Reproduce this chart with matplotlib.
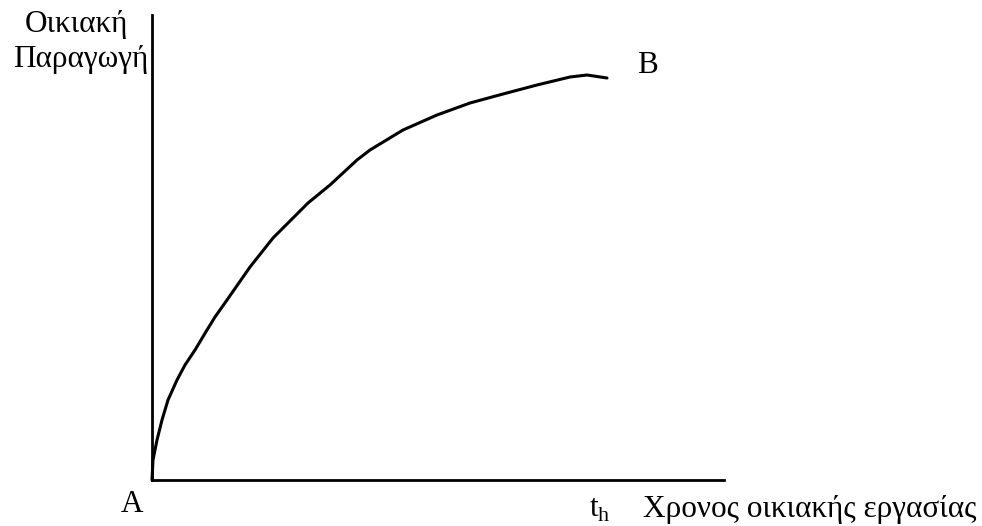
import matplotlib
matplotlib.use("Agg")
import matplotlib.pyplot as plt

# Data (arbitrary units)
t_vals = [0, 1, 5, 10, 16, 25, 33, 43, 55, 63, 75, 98, 121, 140, 156, 178, 205,
          218, 251, 285, 318, 351, 385, 418, 435, 455]
q_vals = [0, 20, 40, 60, 80, 100, 115, 130, 150, 163, 180, 213, 242, 261, 277, 295, 320,
          330, 350, 365, 377, 386, 395, 403, 405, 402]

x_max = 572
y_max = 465

W, H = 982, 526
fig = plt.figure(figsize=(W / 100, H / 100), dpi=100)
ax = fig.add_axes([152 / W, (H - 480) / H, 572 / W, 465 / H])
ax.set_xlim(0, x_max)
ax.set_ylim(0, y_max)
for s in ["top", "right"]:
    ax.spines[s].set_visible(False)
for s in ["left", "bottom"]:
    ax.spines[s].set_linewidth(2.0)
    ax.spines[s].set_color("black")
    ax.spines[s].set_capstyle("projecting")
ax.set_xticks([])
ax.set_yticks([])

ax.plot(t_vals, q_vals, color="black", lw=2.2, solid_capstyle="round",
        solid_joinstyle="round", clip_on=False)

font = ["Liberation Serif", "DejaVu Serif"]
fs = 22.5
fig.text(77 / W, 1 - 32 / H, "Οικιακή", family=font, fontsize=fs, ha="center", va="baseline")
fig.text(148 / W, 1 - 67 / H, "Παραγωγή", family=font, fontsize=fs, ha="right", va="baseline")
fig.text(648 / W, 1 - 73 / H, "B", family=font, fontsize=fs, ha="center", va="baseline")
fig.text(132 / W, 1 - 512 / H, "A", family=font, fontsize=fs, ha="center", va="baseline")
fig.text(589 / W, 1 - 517 / H, "t$_{\\mathregular{h}}$", family=font, fontsize=fs, ha="left", va="baseline")
fig.text(643 / W, 1 - 517 / H, "Χρονος οικιακής εργασίας", family=font, fontsize=fs, ha="left", va="baseline")

fig.savefig("out.png", dpi=100, facecolor="white")
